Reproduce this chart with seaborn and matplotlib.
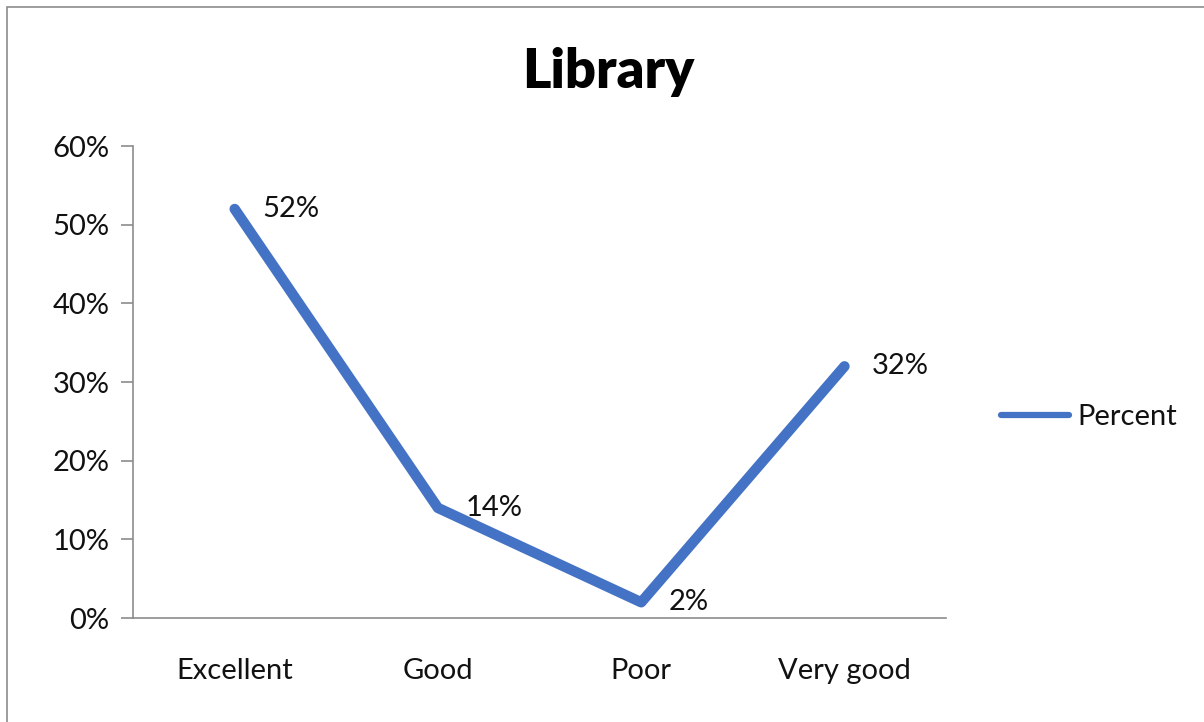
import numpy as np
import pandas as pd
import matplotlib.pyplot as plt
import matplotlib.ticker as mticker
from matplotlib.patches import Rectangle
import seaborn as sns

# dados do grafico
categorias = ["Excellent", "Good", "Poor", "Very good"]
percentuais = [0.52, 0.14, 0.02, 0.32]
rotulos = ["52%", "14%", "2%", "32%"]
yticks = [0.0, 0.1, 0.2, 0.3, 0.4, 0.5, 0.6]

df = pd.DataFrame({"Rating": categorias, "Percent": percentuais})

sns.set_style("white")
plt.rcParams['font.family'] = ['Lato', 'DejaVu Sans']

azul = "#4472C4"
cinza = "#8c8c8c"
tam = 21

fig = plt.figure(figsize=(12.04, 7.22), dpi=100)
ax = fig.add_axes([0.1105, 0.144, 0.6753, 0.6537])

sns.lineplot(data=df, x="Rating", y="Percent", ax=ax, color=azul, linewidth=7.5,
             solid_capstyle="round", solid_joinstyle="round", label="Percent")

ax.set_xlim(-0.5, 3.5)
ax.set_ylim(0, 0.6)
ax.set_yticks(yticks)
ax.yaxis.set_major_formatter(mticker.FuncFormatter(lambda v, p: f"{v:.0%}"))
ax.set_xlabel("")
ax.set_ylabel("")

# marcas do eixo x nas fronteiras das categorias
ax.set_xticks(np.arange(-0.5, 4, 1), minor=True)
ax.tick_params(axis="x", which="major", length=0, pad=29, labelsize=tam, labelcolor="#111111")
ax.tick_params(axis="x", which="minor", length=9, width=1.2, color=cinza, direction="out")
ax.tick_params(axis="y", which="major", length=9, width=1.2, color=cinza, direction="out",
               labelsize=tam, labelcolor="#111111", pad=8)
ax.tick_params(left=True, bottom=True)

for lado in ["top", "right"]:
    ax.spines[lado].set_visible(False)
for lado in ["left", "bottom"]:
    ax.spines[lado].set_color(cinza)
    ax.spines[lado].set_linewidth(1.2)

# rotulos de dados
for i, (v, r) in enumerate(zip(percentuais, rotulos)):
    ax.annotate(r, (i, v), xytext=(20, 0), textcoords="offset points",
                ha="left", va="center", fontsize=tam, color="#111111")

fig.text(0.505, 0.9, "Library", ha="center", va="center", fontsize=39,
         fontweight="heavy", color="black")

leg = ax.legend(loc="center left", bbox_to_anchor=(0.81, 1 - 417 / 722),
                bbox_transform=fig.transFigure, frameon=False, fontsize=tam,
                handlelength=2.3, handletextpad=0.3)
for t in leg.get_texts():
    t.set_color("#111111")
for h in leg.get_lines():
    h.set_linewidth(4.5)

# borda do grafico
fig.patches.append(Rectangle((0.006, -0.05), 1.0, 1.04, transform=fig.transFigure,
                             fill=False, edgecolor=cinza, linewidth=1.2))

plt.savefig("out.png", dpi=100)
